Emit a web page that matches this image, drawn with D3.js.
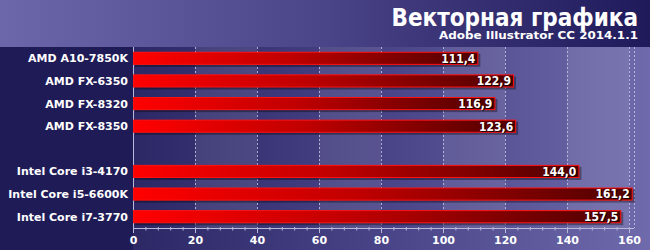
<!DOCTYPE html>
<html><head><meta charset="utf-8">
<script src="https://cdn.jsdelivr.net/npm/d3@7/dist/d3.min.js"></script>
<style>html,body{margin:0;padding:0;background:#1f1b57;}svg{display:block;}</style>
</head><body>
<svg id="c" width="650" height="250"></svg>
<script>
const categories = ["AMD A10-7850K","AMD FX-6350","AMD FX-8320","AMD FX-8350","","Intel Core i3-4170","Intel Core i5-6600K","Intel Core i7-3770"];
const values = [111.4, 122.9, 116.9, 123.6, null, 144.0, 161.2, 157.5];
const valueLabels = ["111,4","122,9","116,9","123,6","","144,0","161,2","157,5"];
const tickValues = [0,20,40,60,80,100,120,140,160];
const title = "Векторная графика";
const subtitle = "Adobe Illustrator CC 2014.1.1";

(function(){
const W = 650, H = 250;
const pLeft = 133, pRight = 629, plotRight = 634, pTop = 47, axisY = 228;
const fontC = "'DejaVu Sans Condensed','DejaVu Sans',sans-serif";
const font = "'DejaVu Sans',Verdana,sans-serif";
const svg = d3.select("#c");
const defs = svg.append("defs");

function lg(id, stops){
  const g = defs.append("linearGradient").attr("id", id).attr("x1",0).attr("y1",0).attr("x2",1).attr("y2",0);
  stops.forEach(s=>g.append("stop").attr("offset",s[0]).attr("stop-color",s[1]));
  return g;
}
lg("titleG", [[0,"#6c66aa"],[0.5,"#4a4488"],[1,"#1f1a5a"]]);
lg("plotG", [[0,"#2c2866"],[0.5,"#4a4588"],[1,"#6e6aab"]]);
lg("barG", [[0,"#ff0000"],[0.45,"#c00000"],[1,"#4e0000"]]);

const ids = categories.map((c,i)=>"k"+i);
const x = d3.scaleLinear().domain([0,160]).range([pLeft,pRight]);
const y = d3.scaleBand().domain(ids).range([pTop, axisY]).paddingInner(0.42).paddingOuter(0.21);

svg.append("rect").attr("x",0).attr("y",0).attr("width",W).attr("height",pTop).attr("fill","url(#titleG)");
svg.append("rect").attr("x",0).attr("y",pTop).attr("width",pLeft).attr("height",H-pTop).attr("fill","#1f1b57");
svg.append("rect").attr("x",pLeft).attr("y",pTop).attr("width",W-pLeft).attr("height",H-pTop).attr("fill","url(#plotG)");

const bands = d3.range(20,160,40);
svg.append("g").selectAll("rect").data(bands).join("rect")
  .attr("x",d=>x(d)).attr("y",pTop).attr("width",d=>x(d+20)-x(d)).attr("height",axisY-pTop)
  .attr("fill","#ffffff").attr("opacity",0.09);

svg.append("g").selectAll("line").data(tickValues.slice(1)).join("line")
  .attr("x1",d=>x(d)+0.5).attr("x2",d=>x(d)+0.5).attr("y1",pTop).attr("y2",axisY)
  .attr("stroke","#c8c8e6").attr("stroke-width",1).attr("stroke-dasharray","2,2").attr("opacity",0.8);
svg.append("line").attr("x1",plotRight+0.5).attr("x2",plotRight+0.5).attr("y1",pTop).attr("y2",axisY)
  .attr("stroke","#c8c8e6").attr("stroke-dasharray","2,2").attr("opacity",0.8);

svg.append("line").attr("x1",pLeft+0.5).attr("x2",pLeft+0.5).attr("y1",pTop).attr("y2",axisY+1)
  .attr("stroke","#b8b8d8").attr("stroke-width",1);

const rows = categories.map((c,i)=>({id:ids[i], c, v:values[i], lab:valueLabels[i]})).filter(d=>d.v!=null);
const bg = svg.append("g");
bg.selectAll("rect.sh").data(rows).join("rect").attr("class","sh")
  .attr("x",pLeft+2).attr("y",d=>y(d.id)+2).attr("width",d=>x(d.v)-pLeft).attr("height",y.bandwidth())
  .attr("fill","#000000").attr("opacity",0.35);
bg.selectAll("rect.b").data(rows).join("rect").attr("class","b")
  .attr("x",pLeft+0.5).attr("y",d=>y(d.id)+0.5).attr("width",d=>x(d.v)-pLeft-1).attr("height",y.bandwidth()-1)
  .attr("fill","url(#barG)").attr("stroke","#ff1010").attr("stroke-width",1);

const vg = svg.append("g").attr("font-family",fontC).attr("font-weight","bold").attr("font-size","12px").attr("text-anchor","end");
vg.selectAll("text.s").data(rows).join("text").attr("class","s")
  .attr("x",d=>x(d.v)-3+1).attr("y",d=>y(d.id)+y.bandwidth()/2+1).attr("dy","0.36em")
  .attr("fill","#000000").attr("opacity",0.7).text(d=>d.lab);
vg.selectAll("text.t").data(rows).join("text").attr("class","t")
  .attr("x",d=>x(d.v)-3).attr("y",d=>y(d.id)+y.bandwidth()/2).attr("dy","0.36em")
  .attr("fill","#ffffff").text(d=>d.lab);

svg.append("g").attr("font-family",font).attr("font-weight","bold").attr("font-size","11px").attr("text-anchor","end")
  .selectAll("text").data(rows).join("text")
  .attr("x",pLeft-5).attr("y",d=>y(d.id)+y.bandwidth()/2).attr("dy","0.36em")
  .attr("fill","#ffffff").text(d=>d.c);

const axis = d3.axisBottom(x).tickValues(tickValues).tickSize(5).tickPadding(3).tickFormat(d3.format("d"));
const ag = svg.append("g").attr("transform",`translate(0,${axisY})`).call(axis);
ag.select(".domain").remove();
ag.append("line").attr("x1",pLeft).attr("x2",plotRight).attr("y1",0.5).attr("y2",0.5).attr("stroke","#b8b8d8");
ag.selectAll(".tick line").attr("stroke","#b8b8d8");
ag.selectAll(".tick text").attr("fill","#ffffff").attr("font-family",font).attr("font-weight","bold").attr("font-size","11px");
const minor = d3.range(0,161,4).filter(v=>v%20!==0);
ag.selectAll("line.minor").data(minor).join("line").attr("class","minor")
  .attr("x1",d=>x(d)+0.5).attr("x2",d=>x(d)+0.5).attr("y1",-1).attr("y2",2.5).attr("stroke","#b8b8d8");

svg.append("text").attr("x",638).attr("y",26).attr("text-anchor","end")
  .attr("font-family",fontC).attr("font-weight","bold").attr("font-size","24px").attr("fill","#ffffff").text(title);
svg.append("text").attr("x",638).attr("y",38.5).attr("text-anchor","end")
  .attr("font-family",font).attr("font-weight","bold").attr("font-size","11px")
  .attr("textLength",199).attr("lengthAdjust","spacingAndGlyphs").attr("fill","#ffffff").text(subtitle);
})();
</script>
</body></html>
